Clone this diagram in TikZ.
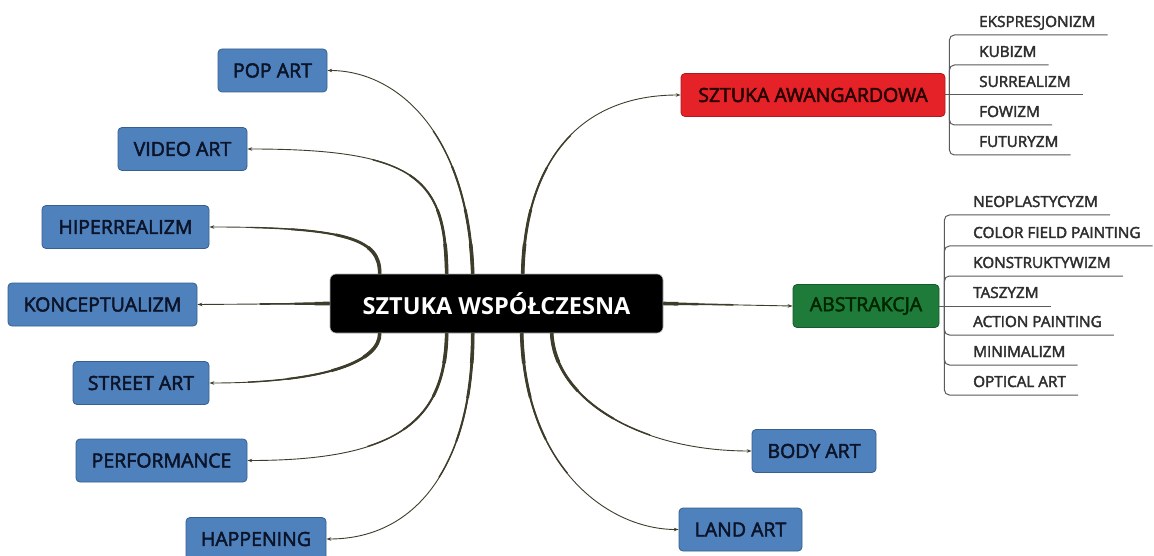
\documentclass[tikz,border=0pt]{standalone}
\usepackage{fontspec}
\setmainfont{Open Sans}
\newfontfamily\semifont{Open Sans}[FakeBold=2.5]
\usetikzlibrary{arrows.meta,calc}
\definecolor{nblue}{HTML}{4F81BD}
\definecolor{nblueb}{HTML}{36608F}
\definecolor{nred}{HTML}{E52228}
\definecolor{nredb}{HTML}{B01A1E}
\definecolor{ngreen}{HTML}{1E7B3A}
\definecolor{ngreenb}{HTML}{145A2A}
\definecolor{conncol}{HTML}{3E3C2A}
\definecolor{subcol}{HTML}{5A5A5A}
\definecolor{subtext}{HTML}{2E2E2E}
\definecolor{ntext}{HTML}{0B1428}
\tikzset{
  mm/.style={rounded corners=4pt, inner sep=0pt, minimum height=43pt,
    font=\semifont\fontsize{19.5}{22}\selectfont},
  bluebox/.style={mm, fill=nblue, draw=nblueb, line width=0.8pt, text=ntext},
  redbox/.style={mm, fill=nred, draw=nredb, line width=0.8pt, text=black!85!red},
  greenbox/.style={mm, fill=ngreen, draw=ngreenb, line width=0.8pt, text=black!85!green},
  centerbox/.style={rounded corners=6pt, inner sep=0pt, minimum width=333pt,
    minimum height=59pt, fill=black, draw=gray!60, line width=0.6pt, text=white,
    font=\fontsize{23.5}{27}\selectfont\bfseries},
  item/.style={anchor=base west, inner sep=0pt, text=subtext,
    font=\semifont\fontsize{15.3}{18}\selectfont},
  conn/.style={draw=conncol},
  tipconn/.style={conn, line width=0.9pt, -{Stealth[length=5pt,width=3.5pt]}},
  subline/.style={draw=subcol, line width=1pt, rounded corners=5pt},
}
\newcommand\mmcurve[1]{%
  \draw[conn, line width=3.6pt, dash pattern=on 30pt off 3000pt] #1;
  \draw[conn, line width=2.8pt, dash pattern=on 65pt off 3000pt] #1;
  \draw[conn, line width=2.0pt, dash pattern=on 110pt off 3000pt] #1;
  \draw[conn, line width=1.4pt, dash pattern=on 150pt off 3000pt] #1;
  \draw[tipconn] #1;
}
\newcommand\mmline[1]{%
  \draw[conn, line width=3.6pt, dash pattern=on 15pt off 3000pt] #1;
  \draw[conn, line width=2.4pt, dash pattern=on 35pt off 3000pt] #1;
  \draw[conn, line width=1.6pt, dash pattern=on 70pt off 3000pt] #1;
  \draw[tipconn] #1;
}
\begin{document}
\begin{tikzpicture}[x=1pt,y=-1pt]
\useasboundingbox[fill=white] (0,0) rectangle (1154,556);

% central node
\node[centerbox] (c) at (496.5,303.5) {SZTUKA WSPÓŁCZESNA};

% left nodes
\node[bluebox, minimum width=109pt] (pop) at (272.5,70.5) {POP ART};
\node[bluebox, minimum width=129pt] (video) at (182.5,149) {VIDEO ART};
\node[bluebox, minimum width=167pt] (hiper) at (125.5,227) {HIPERREALIZM};
\node[bluebox, minimum width=189pt] (konc) at (102.5,304.5) {KONCEPTUALIZM};
\node[bluebox, minimum width=136pt] (street) at (141,383) {STREET ART};
\node[bluebox, minimum width=171pt] (perf) at (161.5,460.5) {PERFORMANCE};
\node[bluebox, minimum width=140pt] (happ) at (256,539) {HAPPENING};

% right nodes
\node[bluebox, minimum width=124pt] (body) at (814,451) {BODY ART};
\node[bluebox, minimum width=123pt] (land) at (740.5,529.5) {LAND ART};
\node[redbox, minimum width=264pt] (awan) at (813,95) {SZTUKA AWANGARDOWA};
\node[greenbox, minimum width=146pt] (abst) at (866,306) {ABSTRAKCJA};

% connectors
\mmcurve{($(c.north west)+(143,0)$) .. controls (468,130) and (395,70.5) .. (pop.east)}
\mmcurve{($(c.north west)+(117,0)$) .. controls (445,180) and (420,149) .. (video.east)}
\mmcurve{($(c.north west)+(50,0)$) .. controls (380,240) and (350,227) .. (hiper.east)}
\mmline{(c.west) -- (konc.east)}
\mmcurve{($(c.south west)+(50,0)$) .. controls (380,360) and (330,383) .. (street.east)}
\mmcurve{($(c.south west)+(117,0)$) .. controls (445,420) and (400,460.5) .. (perf.east)}
\mmcurve{($(c.south west)+(143,0)$) .. controls (473,460) and (420,539) .. (happ.east)}
\mmcurve{($(c.south west)+(192,0)$) .. controls (525,470) and (610,529.5) .. (land.west)}
\mmcurve{($(c.south west)+(222,0)$) .. controls (555,400) and (640,451) .. (body.west)}
\mmcurve{($(c.north west)+(193,0)$) .. controls (525,160) and (580,95) .. (awan.west)}
\mmline{(c.east) -- (abst.west)}

% avant-garde items
\node[item] (a1) at (979,27) {EKSPRESJONIZM};
\node[item] (a2) at (979,57) {KUBIZM};
\node[item] (a3) at (979,87) {SURREALIZM};
\node[item] (a4) at (979,117) {FOWIZM};
\node[item] (a5) at (979,147) {FUTURYZM};
\draw[subline] (awan.east) -- ($(a3.base east)+(12,8)$);
\foreach \i in {1,2,4,5}{
  \draw[subline] ($(awan.east)+(4,0)$) |- ($(a\i.base east)+(12,8)$);
}

% abstraction items
\node[item] (b1) at (973,207) {NEOPLASTYCYZM};
\node[item] (b2) at (973,238) {COLOR FIELD PAINTING};
\node[item] (b3) at (973,268) {KONSTRUKTYWIZM};
\node[item] (b4) at (973,298) {TASZYZM};
\node[item] (b5) at (973,327) {ACTION PAINTING};
\node[item] (b6) at (973,357) {MINIMALIZM};
\node[item] (b7) at (973,387) {OPTICAL ART};
\draw[subline] (abst.east) -- ($(b4.base east)+(12,8)$);
\foreach \i in {1,2,3,5,6,7}{
  \draw[subline] ($(abst.east)+(5,0)$) |- ($(b\i.base east)+(12,8)$);
}
\end{tikzpicture}
\end{document}
